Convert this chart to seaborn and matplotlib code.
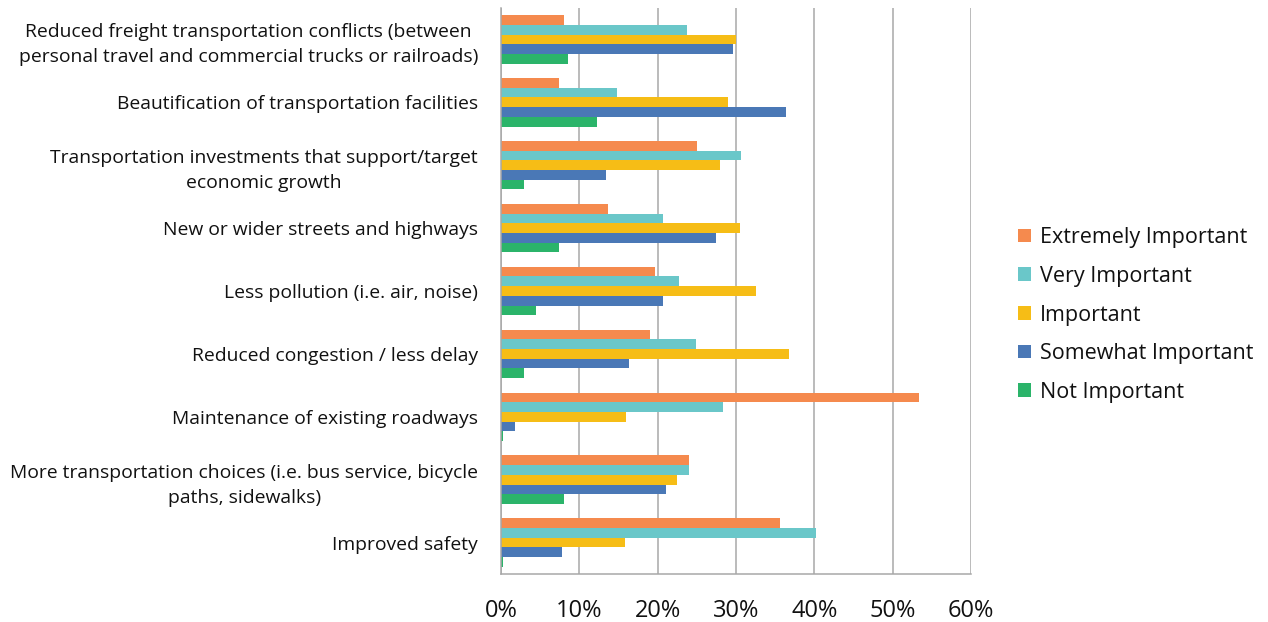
import matplotlib
matplotlib.use("Agg")
import matplotlib.pyplot as plt
import seaborn as sns
import pandas as pd
import numpy as np
from matplotlib.ticker import FixedLocator, PercentFormatter

sns.set_theme(style="white")
plt.rcParams["font.family"] = ["Open Sans", "DejaVu Sans"]

categories = [
    "Reduced freight transportation conflicts (between\npersonal travel and commercial trucks or railroads)",
    "Beautification of transportation facilities",
    "Transportation investments that support/target\neconomic growth",
    "New or wider streets and highways",
    "Less pollution (i.e. air, noise)",
    "Reduced congestion / less delay",
    "Maintenance of existing roadways",
    "More transportation choices (i.e. bus service, bicycle\npaths, sidewalks)",
    "Improved safety",
]

levels = ["Extremely Important", "Very Important", "Important",
          "Somewhat Important", "Not Important"]

extremely = [8.1, 7.4, 25.0, 13.6, 19.6, 19.0, 53.3, 24.0, 35.6]
very = [23.7, 14.8, 30.6, 20.7, 22.7, 24.9, 28.4, 24.0, 40.2]
important = [30.0, 29.0, 27.9, 30.5, 32.5, 36.8, 15.9, 22.5, 15.8]
somewhat = [29.6, 36.4, 13.4, 27.5, 20.7, 16.3, 1.8, 21.1, 7.8]
not_important = [8.5, 12.3, 2.9, 7.4, 4.5, 2.9, 0.3, 8.1, 0.3]

colors = ["#F58A4E", "#6AC7C9", "#F6BD16", "#4A78B6", "#2BB46A"]

series = [extremely, very, important, somewhat, not_important]
df = pd.DataFrame({
    "category": np.tile(categories, len(levels)),
    "level": np.repeat(levels, len(categories)),
    "value": np.concatenate(series),
})

fig = plt.figure(figsize=(12.68, 6.22), dpi=100)
ax = fig.add_axes([501 / 1268, 1 - 574 / 622, 470 / 1268, 566 / 622])

sns.barplot(data=df, x="value", y="category", hue="level",
            order=categories, hue_order=levels, palette=colors,
            orient="h", width=0.77, saturation=1, errorbar=None, ax=ax,
            linewidth=0, legend=True)

grid_c = "#A8A8A8"
text_c = "#111111"
ax.set_xlim(0, 60)
ax.set_ylim(len(categories) - 0.5, -0.5)
ax.set_xticks(np.arange(0, 61, 10))
ax.xaxis.set_major_formatter(PercentFormatter(decimals=0))
ax.xaxis.grid(True, color=grid_c, linewidth=1.1)
ax.yaxis.grid(False)
ax.set_axisbelow(True)
ax.set_xlabel("")
ax.set_ylabel("")

for s in ["top", "right"]:
    ax.spines[s].set_visible(False)
for s in ["left", "bottom"]:
    ax.spines[s].set_color(grid_c)
    ax.spines[s].set_linewidth(1.1)

ax.tick_params(axis="x", which="major", length=8, width=1.1, color=grid_c,
               labelsize=17, labelcolor=text_c, pad=10)
ax.tick_params(axis="y", which="major", length=0, labelsize=13.9,
               labelcolor=text_c, pad=16.5)
ax.yaxis.set_minor_locator(FixedLocator(np.arange(-0.5, len(categories), 1)))
ax.tick_params(axis="y", which="minor", length=9, width=1.1, color=grid_c)

for lab in ax.get_yticklabels():
    lab.set_multialignment("center")
    lab.set_linespacing(1.5)

handles, labels = ax.get_legend_handles_labels()
ax.get_legend().remove()
fig.legend(handles, labels, loc="center left",
           bbox_to_anchor=(1007 / 1268, 1 - 315 / 622),
           frameon=False, fontsize=15.5, handlelength=0.6, handleheight=0.6,
           handletextpad=0.45, labelspacing=0.82, borderpad=0,
           labelcolor=text_c)

fig.savefig("out.png", dpi=100)
